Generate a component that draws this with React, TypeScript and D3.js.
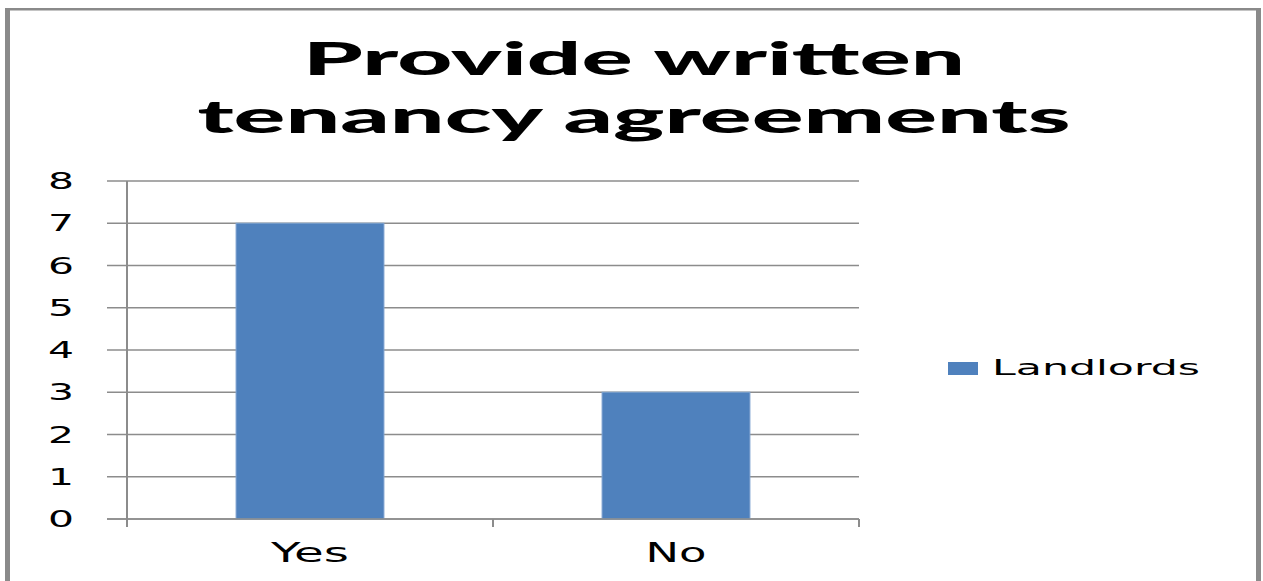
import React from "react";
import * as d3 from "d3";

const categories = ["Yes", "No"];
const landlords = [7, 3];
const yTicks = [0, 1, 2, 3, 4, 5, 6, 7, 8];
const titleLines = ["Provide written", "tenancy agreements"];
const seriesName = "Landlords";

const W = 1263;
const H = 581;
const plot = { left: 127, right: 859, top: 181, bottom: 519 };
const font = "'DejaVu Sans', Verdana, sans-serif";
const titleFont = "Lato, 'DejaVu Sans', sans-serif";

type STProps = {
  x: number;
  y: number;
  width: number;
  sx: number;
  size: number;
  anchor?: "start" | "middle" | "end";
  bold?: boolean;
  family?: string;
  children: React.ReactNode;
};

function StretchText({ x, y, width, sx, size, anchor = "start", bold, family, children }: STProps) {
  return (
    <text
      transform={`translate(${x},${y}) scale(${sx},1)`}
      textAnchor={anchor}
      fontFamily={family || font}
      fontWeight={bold ? 900 : "normal"}
      fontSize={size}
      textLength={width / sx}
      lengthAdjust="spacingAndGlyphs"
      fill="#000"
    >
      {children}
    </text>
  );
}

export default function App() {
  const x = d3
    .scaleBand<string>()
    .domain(categories)
    .range([plot.left, plot.right])
    .paddingInner(0.596)
    .paddingOuter(0.298);
  const y = d3.scaleLinear().domain([0, 8]).range([plot.bottom, plot.top]);
  const step = x.step();
  const catCenters = categories.map((c) => (x(c) as number) + x.bandwidth() / 2);
  const tickXs = d3.range(categories.length + 1).map((i) => plot.left + i * step);
  const catWidths: Record<string, number> = { Yes: 78, No: 61 };
  const titleWidths = [662, 873];
  const titleBaselines = [75, 133];

  return (
    <svg
      width={W}
      height={H}
      style={{ position: "absolute", left: 0, top: 0, background: "#fff" }}
    >
      {/* border */}
      <rect x={5} y={8} width={5} height={H} fill="#8a8a8a" />
      <rect x={5} y={8} width={1256} height={2.5} fill="#8a8a8a" />
      <rect x={1256} y={8} width={5} height={H} fill="#8a8a8a" />

      {/* title */}
      {titleLines.map((t, i) => (
        <StretchText
          key={t}
          x={634}
          y={titleBaselines[i]}
          width={titleWidths[i]}
          sx={1.8}
          size={45}
          anchor="middle"
          bold
          family={titleFont}
        >
          {t}
        </StretchText>
      ))}

      {/* gridlines */}
      {yTicks.map((t) => (
        <line
          key={"g" + t}
          x1={107}
          x2={plot.right}
          y1={y(t)}
          y2={y(t)}
          stroke="#8c8c8c"
          strokeWidth={1.3}
        />
      ))}

      {/* y tick labels */}
      {yTicks.map((t) => (
        <StretchText key={"l" + t} x={74} y={y(t) + 8} width={26} sx={1.75} size={23} anchor="end">
          {t}
        </StretchText>
      ))}

      {/* bars */}
      {categories.map((c, i) => (
        <rect
          key={c}
          x={x(c) as number}
          y={y(landlords[i])}
          width={x.bandwidth()}
          height={y(0) - y(landlords[i])}
          fill="#4F81BD"
          stroke="#7ea3d0"
          strokeWidth={1}
        />
      ))}

      {/* axes */}
      <line x1={plot.left} x2={plot.left} y1={plot.top} y2={526} stroke="#8c8c8c" strokeWidth={2} />
      <line x1={107} x2={plot.right} y1={y(0)} y2={y(0)} stroke="#8c8c8c" strokeWidth={1.5} />
      {tickXs.map((tx, i) => (
        <line key={"t" + i} x1={tx} x2={tx} y1={y(0)} y2={527} stroke="#8c8c8c" strokeWidth={2} />
      ))}

      {/* category labels */}
      {categories.map((c, i) => (
        <StretchText
          key={"c" + c}
          x={catCenters[i]}
          y={562}
          width={catWidths[c]}
          sx={1.72}
          size={26}
          anchor="middle"
        >
          {c}
        </StretchText>
      ))}

      {/* legend */}
      <rect x={948} y={362} width={30} height={13} fill="#4F81BD" />
      <StretchText x={992} y={375} width={208} sx={1.9} size={22}>
        {seriesName}
      </StretchText>
    </svg>
  );
}
